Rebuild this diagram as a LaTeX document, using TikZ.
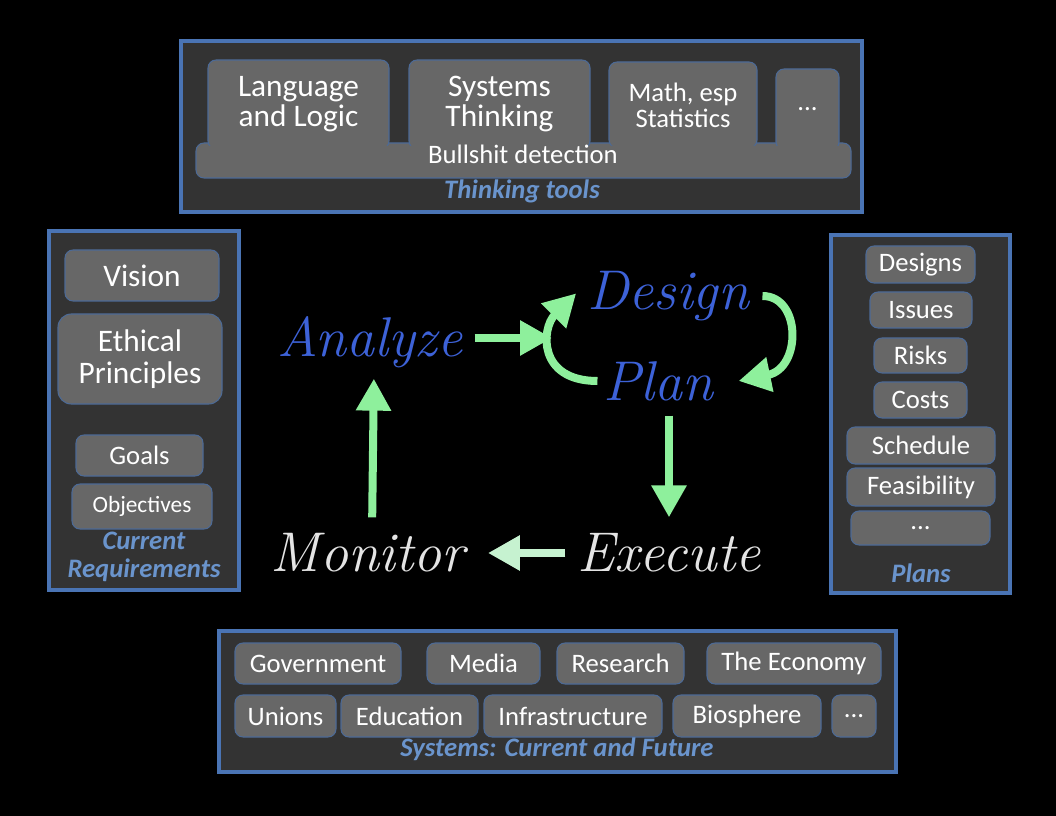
\documentclass[tikz,border=0pt]{standalone}
\usepackage{fontspec}
\usetikzlibrary{arrows.meta}

\newfontfamily\calibri{Carlito}

\definecolor{panelblue}{HTML}{4A74B4}
\definecolor{panelgray}{HTML}{333333}
\definecolor{itemgray}{HTML}{676767}
\definecolor{itemedge}{HTML}{4C6A96}
\definecolor{capblue}{HTML}{6A94CC}
\definecolor{cycleblue}{HTML}{3D62D8}
\definecolor{cyclegray}{HTML}{E4E4E4}
\definecolor{flowgreen}{HTML}{8EF09C}
\definecolor{flowpale}{HTML}{C6F2D0}

\tikzset{
  panel/.style={draw=panelblue, line width=2.4pt, fill=panelgray},
  item/.style={draw=itemedge, line width=0.8pt, fill=itemgray, rounded corners=6pt,
    text=white, align=center, inner sep=1pt, font=\calibri\fontsize{20}{19.5}\selectfont},
  big/.style={font=\calibri\fontsize{23.5}{22.5}\selectfont},
  sz/.style 2 args={minimum width=#1*0.75pt, minimum height=#2*0.75pt},
  caption/.style={text=capblue, align=center, inner sep=0pt,
    font=\calibri\bfseries\itshape\fontsize{20}{20.5}\selectfont},
  stage/.style={inner sep=0pt, font=\itshape\fontsize{42}{44}\selectfont},
  flow/.style={draw=flowgreen, line width=6pt, -{Triangle[length=24pt,width=25pt]}}
}

\begin{document}
\begin{tikzpicture}
[ x=0.75pt, y=-0.75pt
, every node/.style={}
]

\fill[black] (0,0) rectangle (1056,816);
\useasboundingbox (0,0) rectangle (1056,816);

% thinking tools
\draw[panel] (181,41) rectangle (862,212);
\draw[item] (196,143) rectangle (851,178);
\node[item, big, sz={181}{89}] (lang) at (298.5,104.5) {Language\\and Logic};
\node[item, big, sz={181}{89}] (systhink) at (499.5,104.5) {Systems\\Thinking};
\node[item, sz={148}{86}] (math) at (683,105) {Math, esp\\Statistics};
\node[item, sz={63}{81}] (moretools) at (807.5,109.5) {...};
\fill[itemgray, rounded corners=5pt] (197,146) rectangle (850,177);
\node[text=white, font=\calibri\fontsize{20}{22}\selectfont] (bull) at (523,154) {Bullshit detection};
\node[caption] (tools) at (522,191) {Thinking tools};

% requirements
\draw[panel] (49,231) rectangle (239,590);
\node[item, big, sz={154}{51}] (vision) at (142,275.5) {Vision};
\node[item, sz={164}{90}, rounded corners=10pt,
  font=\calibri\fontsize{23.5}{24}\selectfont] (ethics) at (140,359) {Ethical\\Principles};
\node[item, sz={127}{41}] (goals) at (139.5,455.5) {Goals};
\node[item, sz={140}{45}, font=\calibri\fontsize{17.5}{20}\selectfont] (objectives) at (142,506.5) {Objectives};
\node[caption] (reqs) at (144,557) {Current\\Requirements};

% plans
\draw[panel] (831,235) rectangle (1010,593);
\node[item, sz={109}{37}] (designs) at (920.5,264.5) {Designs};
\node[item, sz={102}{36}] (issues) at (921,310) {Issues};
\node[item, sz={93}{35}] (risks) at (920.5,355.5) {Risks};
\node[item, sz={93}{36}] (costs) at (920.5,400) {Costs};
\node[item, sz={148}{37}] (schedule) at (921,445.5) {Schedule};
\node[item, sz={148}{38}] (feasible) at (921,487) {Feasibility};
\node[item, sz={139}{34}] (moreplans) at (920.5,528) {...};
\node[caption] (plans) at (921,573) {Plans};

% systems
\draw[panel] (219,631) rectangle (896,772);
\node[item, sz={166}{41}] (gov) at (318,663.5) {Government};
\node[item, sz={113}{41}] (media) at (483.5,663.5) {Media};
\node[item, sz={127}{41}] (research) at (620.5,663.5) {Research};
\node[item, sz={174}{41}] (economy) at (794,663.5) {The Economy};
\node[item, sz={101}{42}] (unions) at (285.5,716) {Unions};
\node[item, sz={137}{42}] (education) at (409.5,716) {Education};
\node[item, sz={178}{42}] (infra) at (573,716) {Infrastructure};
\node[item, sz={148}{42}] (bio) at (747,716) {Biosphere};
\node[item, sz={44}{42}] (moresys) at (854,716) {...};
\node[caption] (systems) at (557,749) {Systems: Current and Future};

% the cycle
\node[stage, text=cycleblue] (analyze) at (370,342) {Analyze};
\node[stage, text=cycleblue] (design) at (668,296) {Design};
\node[stage, text=cycleblue] (plan) at (658,381) {Plan};
\node[stage, text=cyclegray] (monitor) at (368,553) {Monitor};
\node[stage, text=cyclegray] (execute) at (669,553) {Execute};
\coordinate (join) at (552,338);

\draw[flow, shorten <=9pt] (analyze.east |- join) -- (join);
\draw[flow] ([xshift=-4pt]plan.west) .. controls +(-60,0) and +(-35,35) .. ([xshift=-8pt,yshift=2pt]design.west);
\draw[flow] ([xshift=10pt]design.east) .. controls +(39,0) and +(63,-13) .. ([xshift=19pt]plan.east);
\draw[flow, shorten <=11pt, shorten >=12pt] (plan.south -| execute) -- (execute.north);
\draw[flow, draw=flowpale, shorten <=9pt, shorten >=17pt] (execute.west) -- (monitor.east);
\draw[flow, shorten <=12pt, shorten >=8pt] ([xshift=3pt]monitor.north) -- ([xshift=3pt]analyze.south);

\end{tikzpicture}
\end{document}
